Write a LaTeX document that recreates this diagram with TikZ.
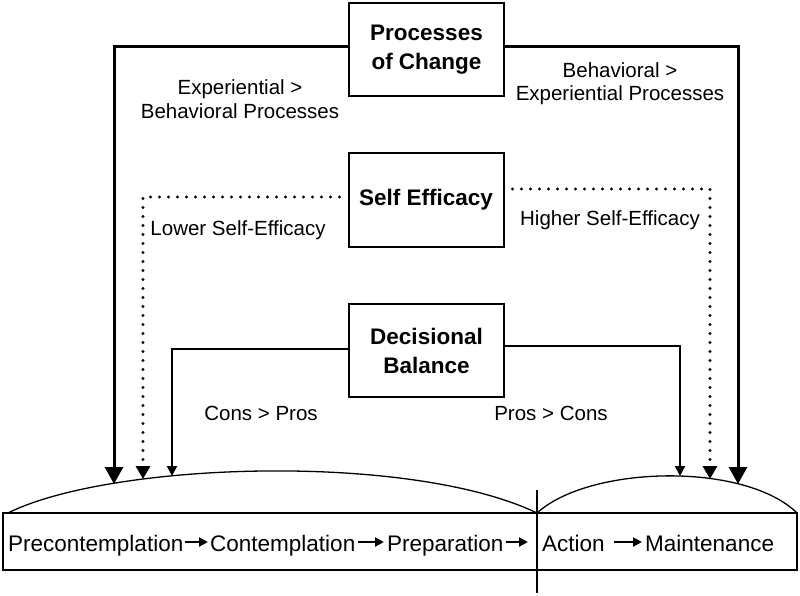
\documentclass[tikz,border=0pt]{standalone}
\usepackage{fontspec}
\setmainfont{Liberation Sans}
\usetikzlibrary{arrows.meta}
\begin{document}
\begin{tikzpicture}[x=1pt,y=1pt,
  boxn/.style={draw,line width=2pt,minimum width=155pt,minimum height=93pt,inner sep=0pt,align=center,font=\fontsize{22.5}{29}\selectfont\bfseries},
  lab/.style={inner sep=0pt,align=center,font=\fontsize{20.5}{23.5}\selectfont},
  stagew/.style={inner sep=0pt,anchor=base west,text height=18pt,text depth=0pt,font=\fontsize{22.5}{27}\selectfont},
  heavy/.style={line width=3pt,-{Triangle[width=18pt,length=17pt]}},
  dotty/.style={line width=3.2pt,dash pattern=on 0pt off 9pt,line cap=round,-{Triangle[width=14pt,length=13pt]}},
  solidarr/.style={line width=2pt,-{Triangle[width=10pt,length=10pt]}},
  stagearr/.style={line width=2pt,-{Triangle[width=9pt,length=9pt]}}
]
\useasboundingbox (0,0) rectangle (800,-596);

% boxes
\node[boxn] (poc) at (426.5,-49.5) {Processes\\of Change};
\node[boxn] (se) at (426,-200) {Self Efficacy};
\node[boxn] (db) at (426.5,-350.5) {Decisional\\Balance};

% stage bar
\node[draw,line width=1.8pt,minimum width=794pt,minimum height=57pt,inner sep=0pt] (bar) at (400,-541.5) {};
\draw[line width=1.3pt] (537,-490) -- (537,-593);
\draw[line width=1.3pt] (8,-513) .. controls (110,-462) and (410,-452) .. (537,-513);
\draw[line width=1.3pt] (537,-513) .. controls (590,-465) and (745,-462) .. (797,-513);

% arrow targets on the arcs
\coordinate (tPL) at (114,-484);
\coordinate (tSL) at (143,-479);
\coordinate (tDL) at (172,-476);
\coordinate (tDR) at (680,-476);
\coordinate (tSR) at (710,-479);
\coordinate (tPR) at (738,-484);

% connectors
\draw[heavy] ([yshift=2.5pt]poc.west) -| (tPL);
\draw[heavy] ([yshift=2.5pt]poc.east) -| (tPR);
\draw[dotty,shorten <=8pt] ([yshift=3pt]se.west) -| (tSL);
\draw[dotty,shorten <=8pt] ([yshift=11pt]se.east) -| (tSR);
\draw[solidarr] ([yshift=1.5pt]db.west) -| (tDL);
\draw[solidarr] ([yshift=4.5pt]db.east) -| (tDR);

% labels
\node[lab] (l1) at (240,-99) {Experiential >\\Behavioral Processes};
\node[lab] (l2) at (620,-83.5) {Behavioral >\\Experiential Processes};
\node[lab] (l3) at (238,-230) {Lower Self-Efficacy};
\node[lab] (l4) at (610,-220) {Higher Self-Efficacy};
\node[lab] (l5) at (261,-413) {Cons > Pros};
\node[lab] (l6) at (551,-413) {Pros > Cons};

% stages
\node[stagew] (s1) at (8,-551) {Precontemplation};
\node[stagew] (s2) at (210,-551) {Contemplation};
\node[stagew] (s3) at (387,-551) {Preparation};
\node[stagew] (s4) at (542,-551) {Action};
\node[stagew] (s5) at (645,-551) {Maintenance};
\draw[stagearr] ([xshift=1pt]s1.east) -- ([xshift=-2pt]s2.west);
\draw[stagearr] ([xshift=3pt]s2.east) -- ([xshift=-3pt]s3.west);
\draw[stagearr] ([xshift=2pt]s3.east) -- (528,-542);
\draw[stagearr] ([xshift=9pt]s4.east) -- ([xshift=-3pt]s5.west);
\end{tikzpicture}
\end{document}
